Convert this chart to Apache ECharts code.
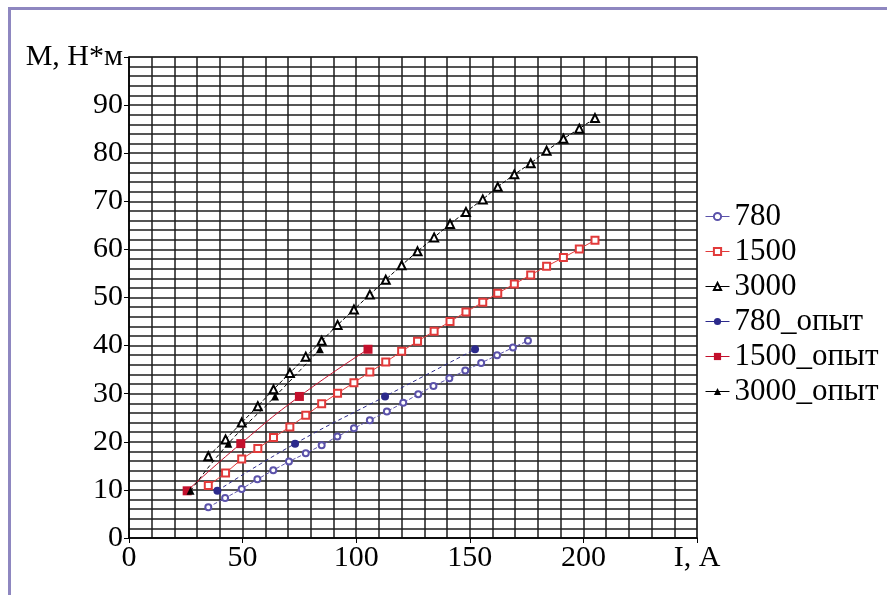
<!DOCTYPE html>
<html>
<head>
<meta charset="utf-8">
<script src="https://cdn.jsdelivr.net/npm/echarts@6/dist/echarts.min.js"></script>
<style>
  html, body { margin: 0; padding: 0; background: #fff; }
  #chart { position: absolute; left: 0; top: 0; width: 887px; height: 595px; }
  #frame { position: absolute; left: 8px; top: 7px; right: 0; bottom: 0;
           border-left: 3px solid #8e87c0; border-top: 3px solid #8e87c0; pointer-events: none; }
</style>
</head>
<body>
<div id="chart"></div>
<div id="frame"></div>
<script>
// current I, A for the calculated curves
const i780 = [34.9, 42.3, 49.6, 56.5, 63.5, 70.4, 77.8, 84.8, 91.7, 99.0, 106.0,
              113.5, 120.7, 127.3, 134.0, 141.0, 148.0, 155.0, 162.0, 169.0, 175.6];
const iCalc = [34.9, 42.5, 49.6, 56.7, 63.6, 70.8, 77.8, 84.8, 91.8, 99.0, 106.0, 113.0, 120.0,
               127.0, 134.3, 141.3, 148.3, 155.7, 162.3, 169.6, 176.8, 183.8, 191.2, 198.2, 205.1];

// torque M, N*m (calculated)
const m780 = [6.4, 8.3, 10.2, 12.2, 14.1, 15.9, 17.6, 19.3, 21.1, 22.8, 24.5,
              26.3, 28.1, 29.9, 31.6, 33.2, 34.8, 36.4, 38.0, 39.6, 41.0];
const m1500 = [10.9, 13.5, 16.4, 18.6, 20.9, 23.1, 25.5, 27.9, 30.1, 32.3, 34.5, 36.6, 38.8,
               40.9, 43.0, 45.0, 47.0, 49.0, 50.9, 52.8, 54.7, 56.5, 58.3, 60.1, 61.9];
const m3000 = [17.0, 20.5, 24.0, 27.4, 30.9, 34.3, 37.7, 41.0, 44.3, 47.5, 50.6, 53.7, 56.7,
               59.6, 62.5, 65.3, 67.8, 70.4, 73.0, 75.6, 77.9, 80.5, 83.0, 85.1, 87.3];

// experiment
const i780Exp = [38.9, 73.1, 112.7, 152.3];
const i1500Exp = [25.6, 49.2, 75.0, 105.2];
const i3000Exp = [27.1, 43.7, 64.3, 84.0];
const mExp = [9.81, 19.62, 29.43, 39.24];

const names = ['780', '1500', '3000', '780_опыт', '1500_опыт', '3000_опыт'];

const zip = (xs, ys) => xs.map((x, k) => [x, ys[k]]);
const font = 'Liberation Serif, Times New Roman, serif';
const gridLine = { color: '#1e1e1e', width: 1.5 };

const chart = echarts.init(document.getElementById('chart'));

const calc = (name, xs, ys, color, symbol, size, dashed) => ({
  name, type: 'line', data: zip(xs, ys),
  symbol, symbolSize: size,
  lineStyle: { color, width: 1, type: dashed ? [4, 2] : 'solid' },
  itemStyle: { color, borderColor: color, borderWidth: 1 },
  emphasis: { disabled: true }
});

const exp = (name, xs, color, symbol, size, dashed) => ({
  name, type: 'line', data: zip(xs, mExp), smooth: true, z: 3,
  symbol, symbolSize: size,
  lineStyle: { color, width: 1, type: dashed ? [4, 3] : 'solid' },
  itemStyle: { color },
  emphasis: { disabled: true }
});

chart.setOption({
  animation: false,
  backgroundColor: '#fff',
  grid: { left: 129, right: 190, top: 57, bottom: 57, show: true, borderColor: '#999', borderWidth: 2 },
  legend: {
    data: names,
    orient: 'vertical', left: 705, top: 201, padding: 0,
    itemWidth: 24, itemHeight: 9, itemGap: 4,
    lineStyle: { type: 'solid', width: 1 },
    textStyle: { fontFamily: font, fontSize: 31, lineHeight: 31, color: '#000' }
  },
  xAxis: {
    type: 'value', min: 0, max: 250, interval: 50,
    axisLine: { onZero: false, lineStyle: { color: '#000', width: 1.5 } },
    axisTick: { show: true, length: 5, lineStyle: { color: '#000' } },
    axisLabel: {
      margin: 5, color: '#000', fontFamily: font, fontSize: 30,
      formatter: v => (v === 250 ? 'I, A' : String(v))
    },
    splitLine: { show: true, lineStyle: gridLine },
    minorTick: { show: false, splitNumber: 5 },
    minorSplitLine: { show: true, lineStyle: gridLine }
  },
  yAxis: {
    type: 'value', min: 0, max: 100, interval: 10,
    name: 'М, Н*м', nameLocation: 'end', nameGap: 0,
    nameTextStyle: { fontFamily: font, fontSize: 30, color: '#000', align: 'right',
                     verticalAlign: 'middle', padding: [0, 6, 0, 0] },
    axisLine: { show: true, lineStyle: { color: '#000', width: 1.5 } },
    axisTick: { show: true, length: 5, lineStyle: { color: '#000' } },
    axisLabel: {
      margin: 6, color: '#000', fontFamily: font, fontSize: 30,
      formatter: v => (v === 100 ? '' : String(v))
    },
    splitLine: { show: true, lineStyle: gridLine },
    minorTick: { show: false, splitNumber: 5 },
    minorSplitLine: { show: true, lineStyle: gridLine }
  },
  series: [
    calc('780', i780, m780, '#5b52aa', 'emptyCircle', 6, true),
    calc('1500', iCalc, m1500, '#e23a3a', 'emptyRect', 7, false),
    calc('3000', iCalc, m3000, '#000', 'emptyTriangle', 8, true),
    exp('780_опыт', i780Exp, '#2c2a8c', 'circle', 8, true),
    exp('1500_опыт', i1500Exp, '#c3102c', 'rect', 9, false),
    exp('3000_опыт', i3000Exp, '#000', 'triangle', 8, true)
  ]
});

window.addEventListener('resize', () => chart.resize());
</script>
</body>
</html>
